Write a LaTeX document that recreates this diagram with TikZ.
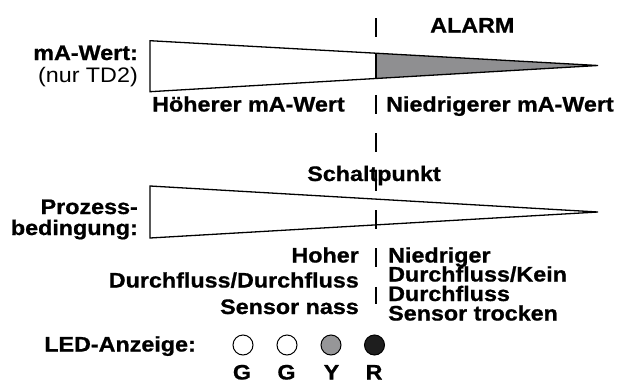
\documentclass[tikz,border=0pt]{standalone}
\usepackage{fontspec}
\setmainfont{Liberation Sans}[BoldFeatures={FakeBold=0.8}]
\usepackage{graphicx}
\usetikzlibrary{calc}
\definecolor{alarmgray}{RGB}{143,143,145}
\definecolor{ledgray}{RGB}{150,150,152}
\definecolor{ledblack}{RGB}{30,30,30}
\newcommand\wtxt[1]{\scalebox{1.11}[1]{#1}}
\tikzset{
  lbl/.style={inner sep=0pt, font=\fontsize{21}{22}\selectfont\bfseries},
  lblreg/.style={inner sep=0pt, font=\fontsize{21}{22}\selectfont},
  wedge/.style={draw=black, line width=1.3pt, line join=miter},
  marker/.style={draw=black, line width=1.2pt, dash pattern=on 19pt off 19.4pt},
  led/.style={circle, draw=black, line width=1pt, minimum size=20pt, inner sep=0pt}
}
\begin{document}
\begin{tikzpicture}[x=1pt,y=-1pt]
\useasboundingbox (0,0) rectangle (618,383);
% wedge 1 (mA-Wert)
\coordinate (w1a) at (150,40.7);
\coordinate (w1b) at (150,91.7);
\coordinate (w1apex) at (598,65.5);
\coordinate (g1a) at ($(w1a)!0.5045!(w1apex)$);
\coordinate (g1b) at ($(w1b)!0.5045!(w1apex)$);
\fill[alarmgray] (g1a) -- (w1apex) -- (g1b) -- cycle;
\draw[black, line width=1.2pt] (g1a) -- (g1b);
\draw[wedge] (w1a) -- (w1apex) -- (w1b) -- cycle;
% wedge 2 (Prozessbedingung)
\coordinate (w2a) at (150,186);
\coordinate (w2b) at (150,238);
\coordinate (w2apex) at (598,212);
\draw[wedge] (w2a) -- (w2apex) -- (w2b) -- cycle;
% switch point marker
\coordinate (dtop) at (376,18);
\coordinate (dbot) at (376,304);
\draw[marker] (dtop) -- (dbot);
% labels
\node[lbl, anchor=base west] (alarm) at (430,32.5) {\wtxt{ALARM}};
\node[lbl, anchor=base east] (maw) at (138,60) {\wtxt{mA-Wert:}};
\node[lblreg, anchor=base east] (td2) at (138,82) {\wtxt{(nur TD2)}};
\node[lbl, anchor=base west] (hoeher) at (152,111.5) {\wtxt{Höherer mA-Wert}};
\node[lbl, anchor=base west] (niedr) at (386,111.5) {\wtxt{Niedrigerer mA-Wert}};
\node[lbl, anchor=base] (schalt) at (374,181) {\wtxt{Schaltpunkt}};
\node[lbl, anchor=base east] (proz1) at (138,214) {\wtxt{Prozess-}};
\node[lbl, anchor=base east] (proz2) at (138,235) {\wtxt{bedingung:}};
\node[lbl, anchor=base east] (l1) at (359,262.5) {\wtxt{Hoher}};
\node[lbl, anchor=base east] (l2) at (359,287.5) {\wtxt{Durchfluss/Durchfluss}};
\node[lbl, anchor=base east] (l3) at (359,314) {\wtxt{Sensor nass}};
\node[lbl, anchor=base west] (r1) at (388,262.5) {\wtxt{Niedriger}};
\node[lbl, anchor=base west] (r2) at (388,281.5) {\wtxt{Durchfluss/Kein}};
\node[lbl, anchor=base west] (r3) at (388,301) {\wtxt{Durchfluss}};
\node[lbl, anchor=base west] (r4) at (388,320.5) {\wtxt{Sensor trocken}};
\node[lbl, anchor=base east] (ledlbl) at (196,351.5) {\wtxt{LED-Anzeige:}};
% LEDs
\node[led, fill=white] (led1) at (243,345) {};
\node[led, fill=white] (led2) at (287,345) {};
\node[led, fill=ledgray] (led3) at (331,345) {};
\node[led, fill=ledblack] (led4) at (374.5,345) {};
\node[lbl, anchor=base] (c1) at (242,379.5) {\wtxt{G}};
\node[lbl, anchor=base] (c2) at (286.5,379.5) {\wtxt{G}};
\node[lbl, anchor=base] (c3) at (331.5,379.5) {\wtxt{Y}};
\node[lbl, anchor=base] (c4) at (374,379.5) {\wtxt{R}};
\end{tikzpicture}
\end{document}
